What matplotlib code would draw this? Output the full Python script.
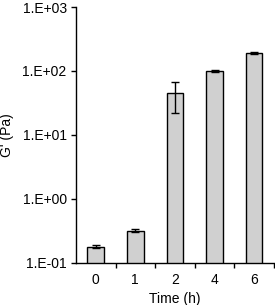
import matplotlib.pyplot as plt
import matplotlib.ticker as mticker
import numpy as np

plt.rcParams['font.family'] = ['Liberation Sans', 'DejaVu Sans']

# Data
times = ["0", "1", "2", "4", "6"]
g_prime = [0.18, 0.32, 45, 100, 193]
g_err = [0.01, 0.02, 23, 5, 6]

fig = plt.figure(figsize=(2.75, 3.05), dpi=100)
ax = fig.add_axes([0.276, 0.138, 0.72, 0.839])

x = np.arange(len(times))
ax.bar(x, g_prime, width=0.42, color="#d0d0d0", edgecolor="black", linewidth=1.0,
       yerr=g_err, error_kw=dict(ecolor="black", elinewidth=1.0, capsize=3, capthick=1.0))

ax.set_yscale("log")
ax.set_ylim(0.1, 1000)
ax.set_xlim(-0.5, len(times) - 0.5)

ax.yaxis.set_major_locator(mticker.LogLocator(base=10, numticks=10))
ax.yaxis.set_minor_locator(mticker.NullLocator())
ax.yaxis.set_major_formatter(mticker.FuncFormatter(lambda v, p: "1.E%+03d" % round(np.log10(v))))

ax.set_xticks(x)
ax.set_xticklabels(times)
ax.tick_params(axis="x", which="major", length=0, pad=7, labelsize=10)
ax.set_xticks(x + 0.5, minor=True)
ax.tick_params(axis="x", which="minor", length=3.6, width=1, direction="out")
ax.tick_params(axis="y", length=3.6, width=1, labelsize=10, pad=3)

ax.spines["top"].set_visible(False)
ax.spines["right"].set_visible(False)
ax.spines["left"].set_linewidth(1)
ax.spines["bottom"].set_linewidth(1)

ax.set_xlabel("Time (h)", fontsize=10, labelpad=4)
ax.set_ylabel("G' (Pa)", fontsize=10, labelpad=6)

fig.savefig("out.png", dpi=100)
